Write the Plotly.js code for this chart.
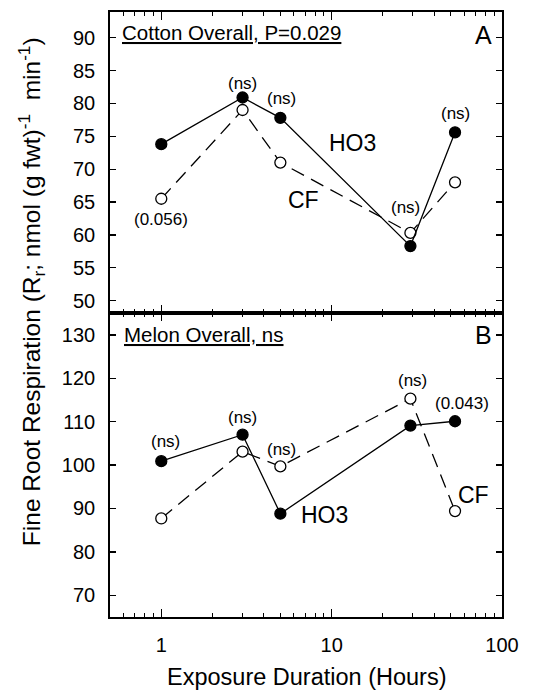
<!DOCTYPE html>
<html>
<head>
<meta charset="utf-8">
<script src="https://cdn.plot.ly/plotly-3.0.1.min.js"></script>
<style>html,body{margin:0;padding:0;background:#fff;}#chart{width:538px;height:692px;}</style>
</head>
<body>
<div id="chart"></div>
<script>
// Exposure duration (hours)
var hours = [1, 3, 5, 29, 53];
// Panel A: Cotton
var cottonHO3 = [73.8, 80.9, 77.8, 58.3, 75.6];
var cottonCF  = [65.5, 79.0, 71.0, 60.3, 68.0];
// Panel B: Melon
var melonHO3 = [100.9, 107.0, 88.8, 109.1, 110.1];
var melonCF  = [87.7, 103.1, 99.7, 115.3, 89.4];

var xMajor = [1, 10, 100];
var xMajorText = ['1', '10', '100'];
var xMinor = [0.5,0.6,0.7,0.8,0.9,2,3,4,5,6,7,8,9,20,30,40,50,60,70,80,90];

var FONT = 'Liberation Sans, Arial, Helvetica, sans-serif';

function series(x, y, filled, dash, xa, ya) {
  return {
    x: x, y: y, xaxis: xa, yaxis: ya, type: 'scatter', mode: 'lines+markers',
    line: {color: '#000', width: 1.3, dash: dash},
    marker: {size: 11, color: filled ? '#000' : '#fff', line: {color: '#000', width: 1.3}},
    showlegend: false, hoverinfo: 'skip'
  };
}

var data = [
  series(hours, cottonCF, false, '14px,8px', 'x2', 'y2'),
  series(hours, cottonHO3, true, 'solid', 'x2', 'y2'),
  series(hours, melonCF, false, '14px,8px', 'x', 'y'),
  series(hours, melonHO3, true, 'solid', 'x', 'y')
];

var xBase = {
  type: 'log', range: [Math.log10(0.5), 2], tickmode: 'array', tickvals: xMajor, ticktext: xMajorText,
  ticks: 'inside', ticklen: 8, tickwidth: 1.3, tickcolor: '#000',
  showline: true, linewidth: 1.8, linecolor: '#000', mirror: 'ticks', showgrid: false, zeroline: false,
  minor: {tickmode: 'array', tickvals: xMinor, ticks: 'inside', ticklen: 4, tickwidth: 1.1, tickcolor: '#000', showgrid: false},
  tickfont: {family: FONT, size: 20, color: '#000'}, ticklabelstandoff: 9
};

var yBase = {
  ticks: 'inside', ticklen: 6, tickwidth: 1.3, tickcolor: '#000',
  showline: true, linewidth: 1.8, linecolor: '#000', mirror: 'ticks', showgrid: false, zeroline: false,
  tickfont: {family: FONT, size: 20, color: '#000'}, ticklabelstandoff: 9
};

function ann(text, x, y, ya, size, extra) {
  var a = {text: text, x: Math.log10(x), y: y, xref: 'x', yref: ya, showarrow: false,
    font: {family: FONT, size: size, color: '#000'}, xanchor: 'center', yanchor: 'middle'};
  if (ya === 'y2') a.xref = 'x2';
  return Object.assign(a, extra || {});
}

var annotations = [
  // Panel A
  {text: '<u>Cotton Overall, P=0.029</u>', xref: 'paper', x: 0.026, yref: 'y2', y: 90.8, xanchor: 'left', yanchor: 'middle', showarrow: false, font: {family: FONT, size: 20.5, color: '#000'}},
  {text: 'A', xref: 'paper', x: 0.979, yref: 'y2', y: 90.4, xanchor: 'right', yanchor: 'middle', showarrow: false, font: {family: FONT, size: 25, color: '#000'}},
  ann('(ns)', 3, 83.1, 'y2', 17),
  ann('(ns)', 5.08, 80.8, 'y2', 17),
  ann('HO3', 13.3, 74.0, 'y2', 23),
  ann('CF', 6.87, 65.3, 'y2', 23),
  ann('(0.056)', 1, 62.3, 'y2', 17),
  ann('(ns)', 27, 64.1, 'y2', 17),
  ann('(ns)', 53.1, 78.5, 'y2', 17),
  // Panel B
  {text: '<u>Melon Overall, ns</u>', xref: 'paper', x: 0.031, yref: 'y', y: 130, xanchor: 'left', yanchor: 'middle', showarrow: false, font: {family: FONT, size: 20.5, color: '#000'}},
  {text: 'B', xref: 'paper', x: 0.979, yref: 'y', y: 130, xanchor: 'right', yanchor: 'middle', showarrow: false, font: {family: FONT, size: 25, color: '#000'}},
  ann('(ns)', 1.06, 105.4, 'y', 17),
  ann('(ns)', 3, 110.9, 'y', 17),
  ann('(ns)', 5.1, 103.5, 'y', 17),
  ann('(ns)', 29.7, 119.6, 'y', 17),
  ann('(0.043)', 58.4, 114.1, 'y', 17),
  ann('HO3', 9.13, 88.6, 'y', 23),
  ann('CF', 67.8, 93.2, 'y', 23),
  // Axis titles
  {text: 'Fine Root Respiration (R<sub>r</sub>; nmol (g fwt)<sup>-1</sup>  min<sup>-1</sup>)', xref: 'paper', yref: 'paper', x: -0.2015, y: 0.537, textangle: -90, showarrow: false, xanchor: 'center', yanchor: 'middle', font: {family: FONT, size: 24.5, color: '#000'}},
  {text: 'Exposure Duration (Hours)', xref: 'paper', yref: 'paper', x: 0.503, y: -0.0986, showarrow: false, xanchor: 'center', yanchor: 'middle', font: {family: FONT, size: 23.5, color: '#000'}}
];

var layout = {
  width: 538, height: 692,
  margin: {l: 110, r: 36, t: 12, b: 75, pad: 0},
  paper_bgcolor: '#fff', plot_bgcolor: '#fff',
  showlegend: false,
  xaxis: Object.assign({}, xBase, {anchor: 'y'}),
  yaxis: Object.assign({}, yBase, {domain: [0, 0.5022], range: [65, 135], dtick: 10, tick0: 0, anchor: 'x'}),
  xaxis2: Object.assign({}, xBase, {anchor: 'y2', matches: 'x', showticklabels: false}),
  yaxis2: Object.assign({}, yBase, {domain: [0.5022, 1], range: [48.1, 93.9], dtick: 5, tick0: 0, anchor: 'x2'}),
  annotations: annotations
};

Plotly.newPlot('chart', data, layout, {displayModeBar: false, staticPlot: true});
</script>
</body>
</html>
